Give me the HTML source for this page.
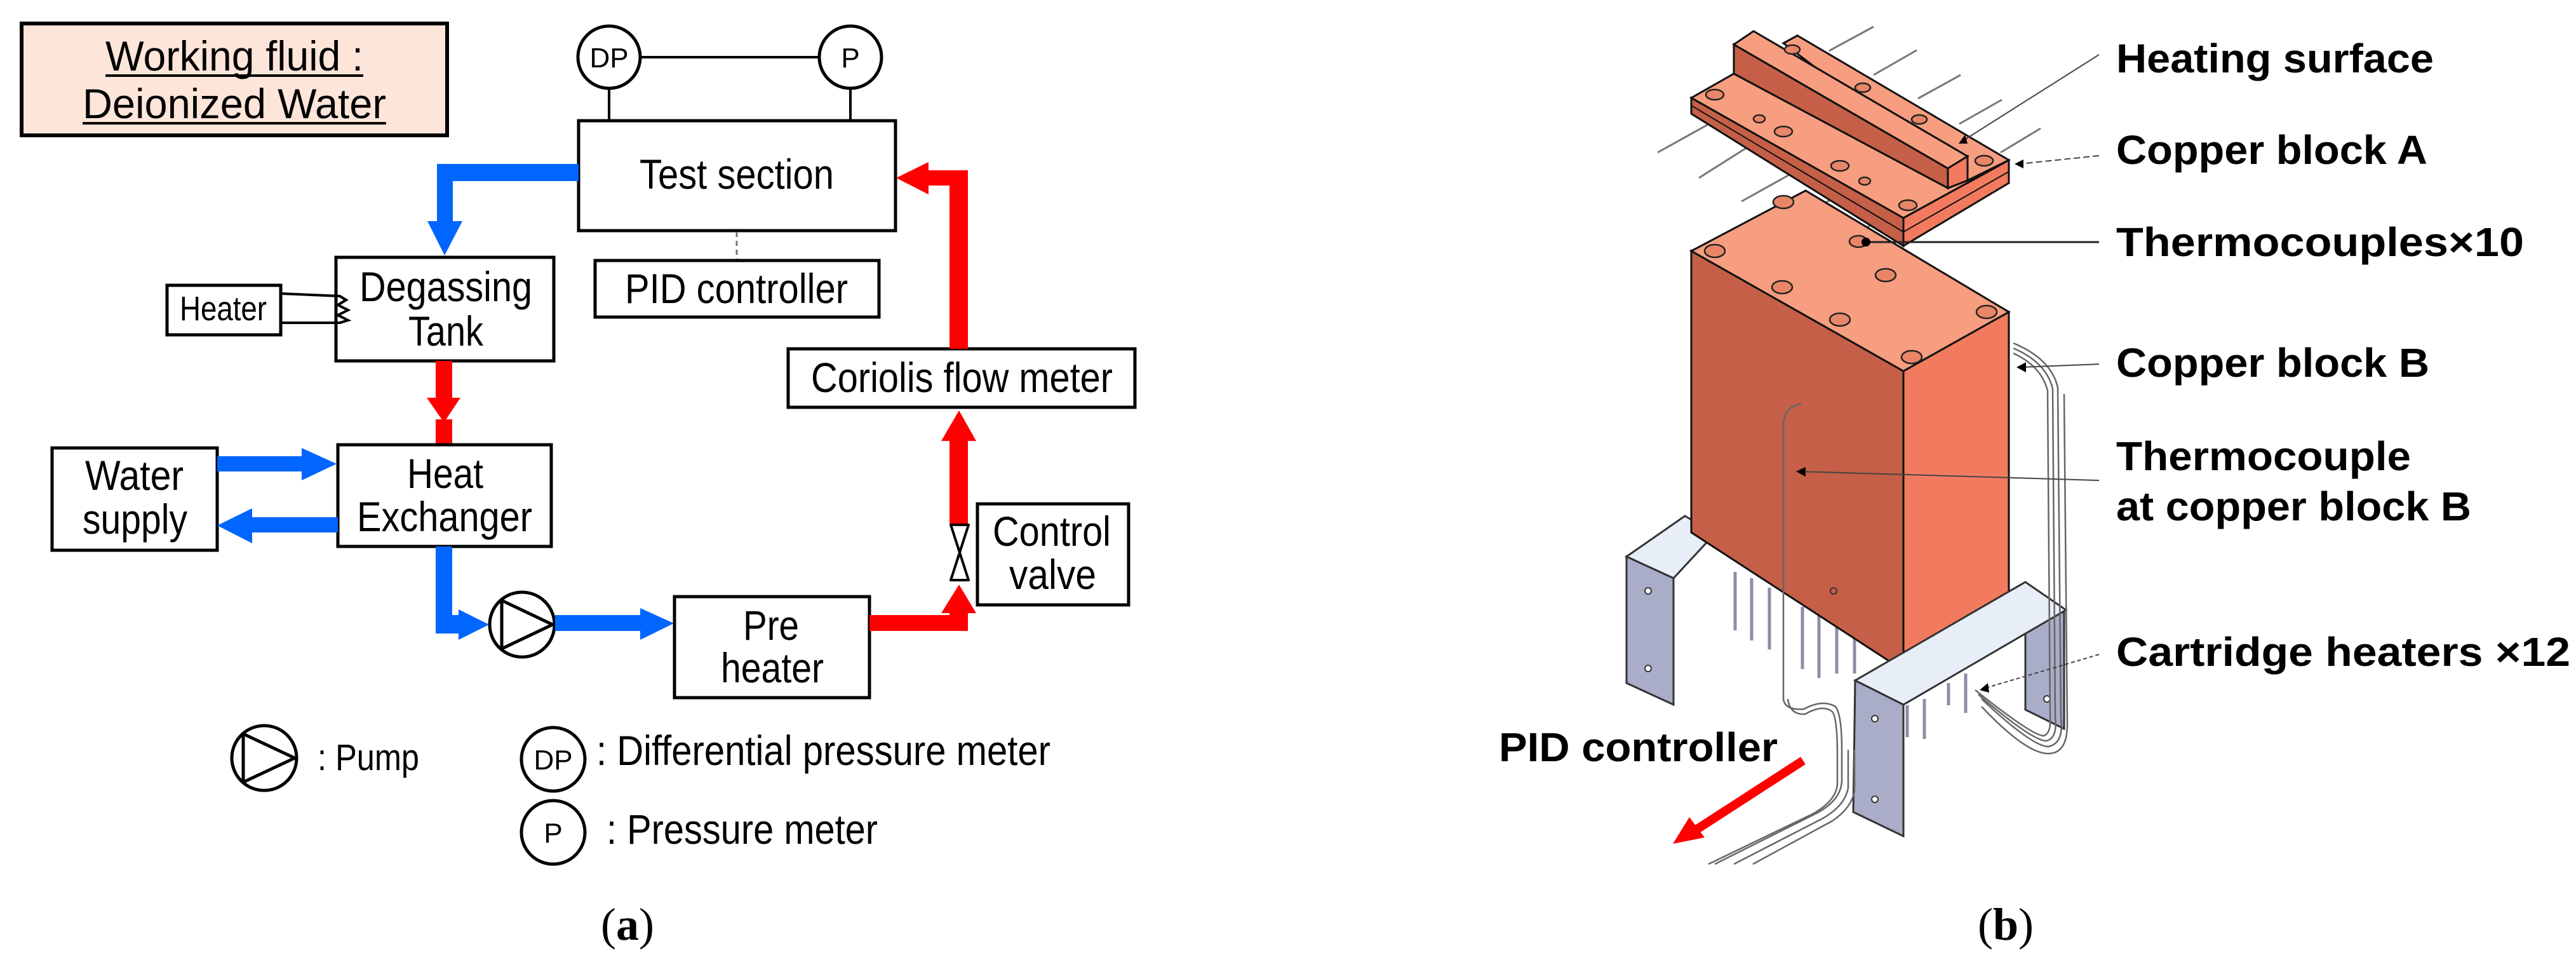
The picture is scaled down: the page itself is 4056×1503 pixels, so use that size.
<!DOCTYPE html>
<html><head><meta charset="utf-8"><style>
html,body{margin:0;padding:0;background:#fff;}
svg{display:block;}
text{font-family:"Liberation Sans",Arial,sans-serif;}
.n{font-size:66px;fill:#000;}
.b{font-size:64px;font-weight:bold;fill:#000;}
.s{font-family:"Liberation Serif",serif;font-size:72px;}
</style></head><body>
<svg width="4056" height="1503" viewBox="0 0 4056 1503" xmlns="http://www.w3.org/2000/svg">
<!-- ===== Panel (a) ===== -->
<rect x="34" y="37" width="670" height="176" fill="#fde5da" stroke="#000" stroke-width="6"/>
<text class="n" x="166" y="111" textLength="406" lengthAdjust="spacingAndGlyphs">Working fluid :</text>
<line x1="166" y1="119" x2="572" y2="119" stroke="#000" stroke-width="4"/>
<text class="n" x="130" y="186" textLength="478" lengthAdjust="spacingAndGlyphs">Deionized Water</text>
<line x1="130" y1="194" x2="608" y2="194" stroke="#000" stroke-width="4"/>

<!-- DP / P -->
<line x1="1008" y1="90" x2="1290" y2="90" stroke="#000" stroke-width="4"/>
<line x1="959" y1="139" x2="959" y2="190" stroke="#000" stroke-width="4"/>
<line x1="1339" y1="139" x2="1339" y2="190" stroke="#000" stroke-width="4"/>
<circle cx="959" cy="90" r="49" fill="#fff" stroke="#000" stroke-width="5"/>
<text x="959" y="106" text-anchor="middle" font-size="44">DP</text>
<circle cx="1339" cy="90" r="49" fill="#fff" stroke="#000" stroke-width="5"/>
<text x="1339" y="106" text-anchor="middle" font-size="44">P</text>

<!-- Test section -->
<rect x="911" y="190" width="499" height="173" fill="#fff" stroke="#000" stroke-width="5"/>
<text class="n" x="1007" y="297" textLength="306" lengthAdjust="spacingAndGlyphs">Test section</text>
<line x1="1160" y1="365" x2="1160" y2="408" stroke="#777" stroke-width="3" stroke-dasharray="8,6"/>
<rect x="937" y="410" width="447" height="89" fill="#fff" stroke="#000" stroke-width="5"/>
<text class="n" x="984" y="477" textLength="351" lengthAdjust="spacingAndGlyphs">PID controller</text>

<!-- blue: test section -> degassing -->
<path d="M911,258 L688,258 L688,348 L673,348 L700,402 L728,348 L713,348 L713,285 L911,285 Z" fill="#0066ff"/>

<!-- Degassing tank -->
<rect x="529" y="405" width="343" height="163" fill="#fff" stroke="#000" stroke-width="5"/>
<text class="n" x="566" y="474" textLength="272" lengthAdjust="spacingAndGlyphs">Degassing</text>
<text class="n" x="643" y="544" textLength="118" lengthAdjust="spacingAndGlyphs">Tank</text>
<!-- heater -->
<rect x="263" y="449" width="179" height="78" fill="#fff" stroke="#000" stroke-width="5"/>
<text x="283" y="504" font-size="54" textLength="137" lengthAdjust="spacingAndGlyphs">Heater</text>
<polyline points="442,462 535,466 545,472 532,480 548,488 532,496 548,504 535,508 442,508" fill="none" stroke="#000" stroke-width="4"/>

<!-- red degassing -> HX -->
<path d="M686,568 L712,568 L712,626 L725,626 L699,665 L672,626 L686,626 Z" fill="#ff0000"/>
<rect x="686" y="660" width="26" height="42" fill="#ff0000"/>

<!-- Heat exchanger -->
<rect x="532" y="700" width="336" height="160" fill="#fff" stroke="#000" stroke-width="5"/>
<text class="n" x="641" y="768" textLength="120" lengthAdjust="spacingAndGlyphs">Heat</text>
<text class="n" x="562" y="836" textLength="276" lengthAdjust="spacingAndGlyphs">Exchanger</text>

<!-- Water supply -->
<rect x="82" y="705" width="260" height="161" fill="#fff" stroke="#000" stroke-width="5"/>
<text class="n" x="134" y="771" textLength="155" lengthAdjust="spacingAndGlyphs">Water</text>
<text class="n" x="130" y="840" textLength="165" lengthAdjust="spacingAndGlyphs">supply</text>
<!-- water arrows -->
<path d="M342,718 L475,718 L475,705 L530,730 L475,756 L475,742 L342,742 Z" fill="#0066ff"/>
<path d="M532,814 L397,814 L397,800 L342,827 L397,855 L397,838 L532,838 Z" fill="#0066ff"/>

<!-- HX -> pump -->
<path d="M686,860 L712,860 L712,968 L722,968 L722,959 L770,983 L722,1007 L722,997 L686,997 Z" fill="#0066ff"/>
<circle cx="822" cy="983" r="51" fill="#fff" stroke="#000" stroke-width="5"/>
<path d="M790,945 L790,1021 L870,983 Z" fill="none" stroke="#000" stroke-width="5" stroke-linejoin="round"/>
<!-- pump -> preheater -->
<path d="M874,968 L1008,968 L1008,957 L1061,981 L1008,1007 L1008,993 L874,993 Z" fill="#0066ff"/>

<!-- Pre heater -->
<rect x="1062" y="939" width="307" height="159" fill="#fff" stroke="#000" stroke-width="5"/>
<text class="n" x="1170" y="1007" textLength="88" lengthAdjust="spacingAndGlyphs">Pre</text>
<text class="n" x="1135" y="1074" textLength="162" lengthAdjust="spacingAndGlyphs">heater</text>

<!-- red preheater -> valve -->
<path d="M1369,968 L1495,968 L1495,965 L1482,965 L1510,920 L1537,965 L1524,965 L1524,993 L1369,993 Z" fill="#ff0000"/>
<!-- valve -->
<path d="M1497,826 L1525,826 L1497,913 L1525,913 Z" fill="#fff" stroke="#000" stroke-width="4" stroke-linejoin="round"/>
<!-- red valve -> coriolis -->
<path d="M1495,824 L1524,824 L1524,694 L1537,694 L1510,646 L1482,694 L1495,694 Z" fill="#ff0000"/>
<!-- Control valve -->
<rect x="1539" y="793" width="238" height="159" fill="#fff" stroke="#000" stroke-width="5"/>
<text class="n" x="1563" y="859" textLength="186" lengthAdjust="spacingAndGlyphs">Control</text>
<text class="n" x="1589" y="927" textLength="137" lengthAdjust="spacingAndGlyphs">valve</text>
<!-- Coriolis -->
<rect x="1241" y="549" width="546" height="92" fill="#fff" stroke="#000" stroke-width="5"/>
<text class="n" x="1277" y="617" textLength="475" lengthAdjust="spacingAndGlyphs">Coriolis flow meter</text>
<!-- red coriolis -> test section -->
<path d="M1495,549 L1495,292 L1462,292 L1462,306 L1411,280 L1462,255 L1462,268 L1524,268 L1524,549 Z" fill="#ff0000"/>

<!-- Legend -->
<circle cx="416" cy="1193" r="51" fill="#fff" stroke="#000" stroke-width="5"/>
<path d="M383,1155 L383,1231 L464,1193 Z" fill="none" stroke="#000" stroke-width="5" stroke-linejoin="round"/>
<text x="500" y="1212" font-size="58" textLength="160" lengthAdjust="spacingAndGlyphs">: Pump</text>
<circle cx="871" cy="1195" r="50" fill="#fff" stroke="#000" stroke-width="5"/>
<text x="871" y="1211" text-anchor="middle" font-size="44">DP</text>
<text class="n" x="939" y="1204" textLength="715" lengthAdjust="spacingAndGlyphs">: Differential pressure meter</text>
<circle cx="871" cy="1310" r="50" fill="#fff" stroke="#000" stroke-width="5"/>
<text x="871" y="1326" text-anchor="middle" font-size="44">P</text>
<text class="n" x="955" y="1328" textLength="427" lengthAdjust="spacingAndGlyphs">: Pressure meter</text>
<text class="s" x="946" y="1479" textLength="84" lengthAdjust="spacingAndGlyphs">(<tspan font-weight="bold">a</tspan>)</text>

<!-- ===== Panel (b) ===== -->
<g stroke="#777" stroke-width="3" fill="none">
 <!-- thermocouple wires A -->
 <line x1="2610" y1="240" x2="2700" y2="190"/>
 <line x1="2675" y1="280" x2="2762" y2="225"/>
 <line x1="2742" y1="317" x2="2830" y2="268"/>
 <line x1="2810" y1="357" x2="2898" y2="305"/>
 <line x1="2875" y1="395" x2="2962" y2="345"/>
 <line x1="2880" y1="80" x2="2950" y2="42"/>
 <line x1="2950" y1="118" x2="3018" y2="79"/>
 <line x1="3020" y1="155" x2="3087" y2="118"/>
 <line x1="3085" y1="195" x2="3152" y2="157"/>
 <line x1="3150" y1="240" x2="3213" y2="202"/>
</g>
<!-- left bracket -->
<polygon points="2561,876 2653,812 2700,840 2635,910" fill="#e8eef8" stroke="#333" stroke-width="3"/>
<polygon points="2561,876 2635,910 2635,1109 2561,1075" fill="#a9adc8" stroke="#333" stroke-width="3"/>
<circle cx="2595" cy="930" r="5" fill="#fff" stroke="#333" stroke-width="2"/>
<circle cx="2595" cy="1052" r="5" fill="#fff" stroke="#333" stroke-width="2"/>
<!-- right bracket back leg -->
<polygon points="3189,994 3250,962 3250,1147 3189,1117" fill="#a9adc8" stroke="#333" stroke-width="3"/>
<!-- heaters -->
<g stroke="#8a8fa8" stroke-width="5">
 <line x1="2732" y1="900" x2="2732" y2="992"/>
 <line x1="2758" y1="910" x2="2758" y2="1008"/>
 <line x1="2786" y1="925" x2="2786" y2="1022"/>
 <line x1="2838" y1="955" x2="2838" y2="1053"/>
 <line x1="2864" y1="968" x2="2864" y2="1067"/>
 <line x1="2892" y1="980" x2="2892" y2="1060"/>
 <line x1="2920" y1="995" x2="2920" y2="1060"/>
 <line x1="3003" y1="1110" x2="3003" y2="1160"/>
 <line x1="3030" y1="1100" x2="3030" y2="1163"/>
 <line x1="3068" y1="1075" x2="3068" y2="1110"/>
 <line x1="3095" y1="1060" x2="3095" y2="1122"/>
</g>
<!-- block B -->
<polygon points="2663,395 2997,584 2997,1055 2663,838" fill="#c55f48" stroke="#111" stroke-width="3"/>
<polygon points="2997,584 3163,491 3163,963 2997,1055" fill="#f27b5f" stroke="#111" stroke-width="3"/>
<polygon points="2663,395 2843,300 3163,491 2997,584" fill="#f79d80" stroke="#111" stroke-width="3"/>
<g fill="#e98668" stroke="#222" stroke-width="2.5">
 <ellipse cx="2700" cy="395" rx="16" ry="10"/>
 <ellipse cx="2808" cy="318" rx="16" ry="10"/>
 <ellipse cx="2806" cy="452" rx="16" ry="10"/>
 <ellipse cx="2897" cy="503" rx="16" ry="10"/>
 <ellipse cx="2969" cy="433" rx="16" ry="10"/>
 <ellipse cx="3128" cy="491" rx="16" ry="10"/>
 <ellipse cx="3010" cy="562" rx="16" ry="10"/>
 <ellipse cx="2926" cy="380" rx="14" ry="9"/>
</g>
<circle cx="2887" cy="930" r="5" fill="none" stroke="#333" stroke-width="2"/>
<!-- block A -->
<polygon points="2663,154 2997,343 2997,387 2663,179" fill="#c55f48" stroke="#111" stroke-width="3"/>
<polygon points="2997,343 3163,252 3163,288 2997,387" fill="#f27b5f" stroke="#111" stroke-width="3"/>
<line x1="2997" y1="365" x2="3163" y2="270" stroke="#111" stroke-width="2"/>
<line x1="2663" y1="166" x2="2997" y2="365" stroke="#111" stroke-width="2"/>
<polygon points="2808,68 2830,56 3163,252 3098,288" fill="#f79d80" stroke="#111" stroke-width="3"/>
<polygon points="2663,154 2730,116 3067,296 3098,284 3163,252 2997,343" fill="#f79d80" stroke="#111" stroke-width="3"/>
<polygon points="2730,70 3067,265 3067,296 2730,116" fill="#c55f48" stroke="#111" stroke-width="3"/>
<polygon points="2730,70 2761,49 3098,246 3067,265" fill="#f79d80" stroke="#111" stroke-width="3"/>
<polygon points="3067,265 3098,246 3098,284 3067,296" fill="#f27b5f" stroke="#111" stroke-width="3"/>
<g fill="#e98668" stroke="#222" stroke-width="2.5">
 <ellipse cx="2700" cy="149" rx="14" ry="8"/>
 <ellipse cx="2808" cy="207" rx="14" ry="8"/>
 <ellipse cx="2897" cy="261" rx="14" ry="8"/>
 <ellipse cx="3004" cy="323" rx="14" ry="8"/>
 <ellipse cx="3124" cy="253" rx="14" ry="8"/>
 <ellipse cx="2770" cy="187" rx="9" ry="6"/>
 <ellipse cx="2936" cy="285" rx="9" ry="6"/>
 <ellipse cx="2822" cy="78" rx="12" ry="7"/>
 <ellipse cx="2933" cy="138" rx="12" ry="7"/>
 <ellipse cx="3022" cy="188" rx="12" ry="7"/>
</g>
<!-- right bracket front -->
<polygon points="2921,1071 3189,916 3253,960 2997,1109" fill="#e8eef8" stroke="#333" stroke-width="3"/>
<polygon points="2921,1071 2997,1109 2997,1316 2918,1278" fill="#a9adc8" stroke="#333" stroke-width="3"/>
<circle cx="2952" cy="1131" r="5" fill="#fff" stroke="#333" stroke-width="2"/>
<circle cx="2952" cy="1258" r="5" fill="#fff" stroke="#333" stroke-width="2"/>
<circle cx="3223" cy="1100" r="5" fill="#fff" stroke="#333" stroke-width="2"/>
<!-- wires -->
<g fill="none" stroke="#666" stroke-width="2.5">
 <path d="M2836,636 Q2808,640 2808,670 L2808,1100 Q2810,1118 2840,1116 Q2870,1100 2890,1112 Q2900,1125 2900,1180 L2900,1230 Q2898,1260 2860,1280 L2700,1360"/>
 <path d="M2815,1100 Q2818,1125 2842,1124 Q2870,1108 2885,1120 Q2893,1130 2893,1190 L2893,1235 Q2890,1262 2852,1282 L2690,1360"/>
 <path d="M2910,1180 L2910,1240 Q2905,1268 2870,1288 L2730,1360"/>
 <path d="M2920,1180 L2920,1245 Q2915,1272 2885,1292 L2760,1360"/>
 <path d="M3170,540 Q3230,565 3240,610 L3245,1130 Q3250,1170 3225,1175 Q3200,1175 3120,1100"/>
 <path d="M3170,548 Q3222,570 3232,612 L3236,1128 Q3240,1162 3222,1166 Q3200,1166 3115,1093"/>
 <path d="M3170,556 Q3214,576 3224,615 L3228,1126 Q3230,1154 3218,1158 Q3200,1158 3110,1086"/>
 <path d="M3250,620 L3255,1140 Q3255,1186 3225,1186 Q3190,1186 3120,1112"/>
</g>
<!-- red arrow -->
<line x1="2839" y1="1197" x2="2672" y2="1305" stroke="#ff0000" stroke-width="14"/>
<polygon points="2634,1328 2660,1286 2684,1318" fill="#ff0000"/>
<!-- leaders -->
<g stroke="#444" stroke-width="2" fill="none">
 <line x1="3305" y1="86" x2="3090" y2="222"/>
 <line x1="3305" y1="245" x2="3180" y2="258" stroke-dasharray="10,5"/>
 <line x1="3305" y1="381" x2="2940" y2="381" stroke="#222" stroke-width="3"/>
 <line x1="3305" y1="573" x2="3182" y2="578"/>
 <line x1="3305" y1="756" x2="2832" y2="742"/>
 <line x1="3305" y1="1030" x2="3122" y2="1084" stroke-dasharray="6,4"/>
</g>
<polygon points="3084,226 3094,212 3098,226" fill="#000"/>
<polygon points="3172,258 3186,251 3186,265" fill="#000"/>
<circle cx="2938" cy="381" r="7" fill="#000"/>
<polygon points="3175,578 3190,570 3190,586" fill="#000"/>
<polygon points="2828,742 2843,735 2843,750" fill="#000"/>
<polygon points="3117,1086 3130,1075 3132,1090" fill="#000"/>
<!-- labels -->
<text class="b" x="3332" y="114" textLength="500" lengthAdjust="spacingAndGlyphs">Heating surface</text>
<text class="b" x="3332" y="258" textLength="490" lengthAdjust="spacingAndGlyphs">Copper block A</text>
<text class="b" x="3332" y="403" textLength="642" lengthAdjust="spacingAndGlyphs">Thermocouples×10</text>
<text class="b" x="3332" y="593" textLength="493" lengthAdjust="spacingAndGlyphs">Copper block B</text>
<text class="b" x="3332" y="740" textLength="464" lengthAdjust="spacingAndGlyphs">Thermocouple</text>
<text class="b" x="3332" y="819" textLength="559" lengthAdjust="spacingAndGlyphs">at copper block B</text>
<text class="b" x="3332" y="1048" textLength="715" lengthAdjust="spacingAndGlyphs">Cartridge heaters ×12</text>
<text class="b" x="2360" y="1198" textLength="439" lengthAdjust="spacingAndGlyphs">PID controller</text>
<text class="s" x="3114" y="1479" textLength="88" lengthAdjust="spacingAndGlyphs">(<tspan font-weight="bold">b</tspan>)</text>
</svg>
</body></html>
